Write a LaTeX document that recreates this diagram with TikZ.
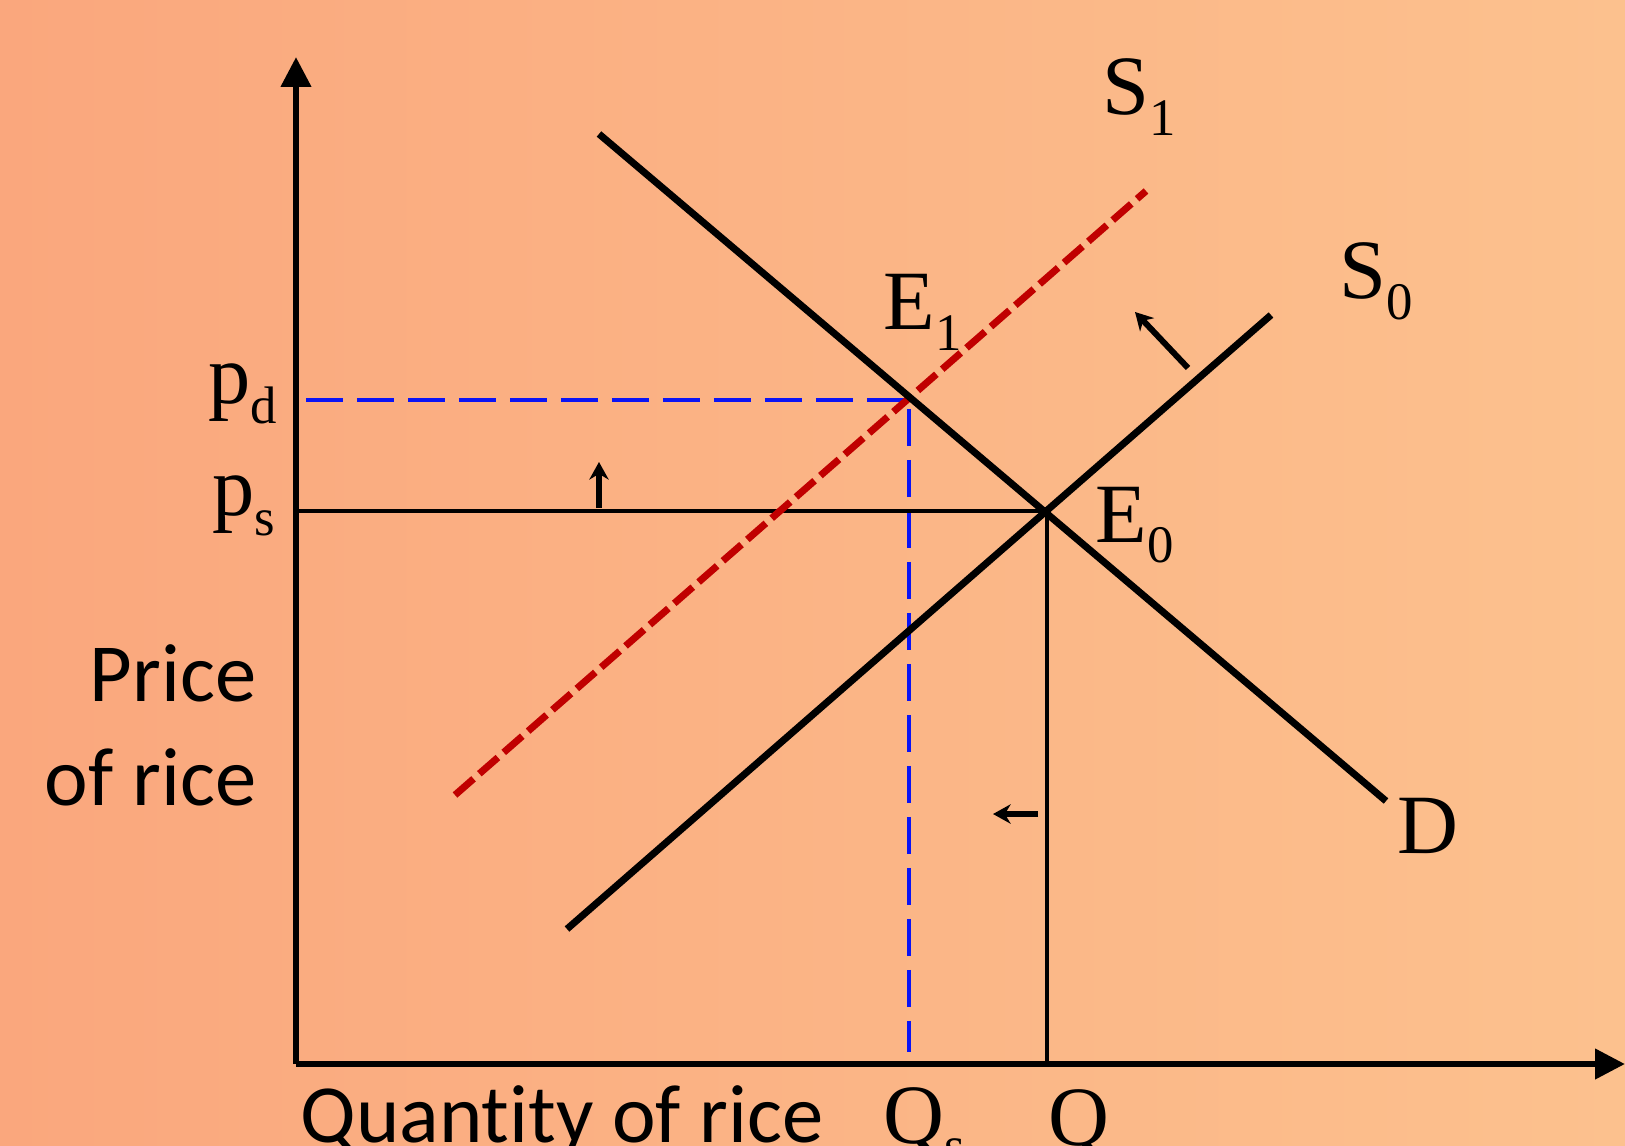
\documentclass[tikz,border=0pt]{standalone}
\usepackage{fontspec}
\setmainfont{Liberation Serif}
\newfontfamily\axisfont[Ligatures=NoCommon]{Carlito}
\usetikzlibrary{arrows.meta}

\definecolor{bgwarm}{RGB}{250,167,125}
\definecolor{bglight}{RGB}{252,193,142}
\definecolor{shiftred}{RGB}{192,0,0}
\definecolor{guideblue}{RGB}{10,20,245}

% label with a lowered index, e.g. \eqlbl{E}{0}
\newcommand{\eqlbl}[2]{\fontsize{24}{28}\selectfont #1\raisebox{-5.7pt}{\fontsize{15}{18}\selectfont #2}}

\begin{document}
\begin{tikzpicture}[
  x=0.01cm, y=-0.01cm,
  >=Stealth,
  axis/.style={line width=1.8pt,-{Triangle[width=8.3pt,length=8.5pt]}},
  curve/.style={line width=2pt},
  shifted/.style={line width=2pt,shiftred,dash pattern=on 7pt off 2.2pt},
  guide/.style={line width=1.4pt,guideblue,dash pattern=on 10.5pt off 4pt},
  level/.style={line width=0.9pt},
  nudge/.style={line width=1.7pt,-{Stealth[length=5pt,width=5.5pt]}},
  lbl/.style={anchor=base west,inner sep=0pt},
  axlbl/.style={inner sep=0pt,font=\axisfont\fontsize{23.5}{29.3}\selectfont}
]
  \useasboundingbox (0,0) rectangle (1625,1146);
  \clip (0,0) rectangle (1625,1146);
  \shade[left color=bgwarm,right color=bglight] (0,0) rectangle (1625,1146);

  % axes and points
  \coordinate (O) at (296,1064);
  \coordinate (ytop) at (296,57);
  \coordinate (xend) at (1625,1064);
  \coordinate (E1) at (909,400);
  \coordinate (E0) at (1047,511);
  \coordinate (pd) at (306,400);
  \coordinate (ps) at (296,511);
  \coordinate (qs) at (909,1052);
  \coordinate (q) at (1047,1064);

  % curves
  \coordinate (D1) at (599,134);
  \coordinate (D2) at (1386,801);
  \coordinate (S0a) at (567,929);
  \coordinate (S0b) at (1271,315);
  \coordinate (S1a) at (455,795);
  \coordinate (S1b) at (1146,191);

  \draw[guide] (pd) -- (E1) -- (qs);
  \draw[level] (ps) -- (E0) -- (q);
  \draw[shifted] (S1a) -- (S1b);
  \draw[curve] (D1) -- (D2);
  \draw[curve] (S0a) -- (S0b);
  \draw[axis] (O) -- (ytop);
  \draw[axis] (O) -- (xend);

  % shift arrows
  \coordinate (up1) at (599,508);
  \coordinate (up2) at (599,462);
  \coordinate (lf1) at (1038,814);
  \coordinate (lf2) at (993,814);
  \coordinate (dg1) at (1188,368);
  \coordinate (dg2) at (1135,312);
  \draw[nudge] (up1) -- (up2);
  \draw[nudge] (lf1) -- (lf2);
  \draw[nudge] (dg1) -- (dg2);

  % labels
  \node[lbl] (lS1) at (1102,115) {\eqlbl{S}{1}};
  \node[lbl] (lS0) at (1339,299) {\eqlbl{S}{0}};
  \node[lbl] (lE1) at (883,330) {\eqlbl{E}{1}};
  \node[lbl] (lE0) at (1095,542) {\eqlbl{E}{0}};
  \node[lbl] (lD) at (1397,853) {\eqlbl{D}{}};
  \node[lbl] (lpd) at (208,403) {\eqlbl{p}{d}};
  \node[lbl] (lps) at (212,515) {\eqlbl{p}{s}};
  \node[lbl] (lQs) at (883,1143) {\eqlbl{Q}{s}};
  \node[lbl] (lQ) at (1048,1145) {\eqlbl{Q}{}};

  \node[axlbl,align=right,anchor=base east] (price) at (257,805) {Price\\of rice};
  \node[axlbl,anchor=base west] (qty) at (300,1142) {Quantity of rice};
\end{tikzpicture}
\end{document}
